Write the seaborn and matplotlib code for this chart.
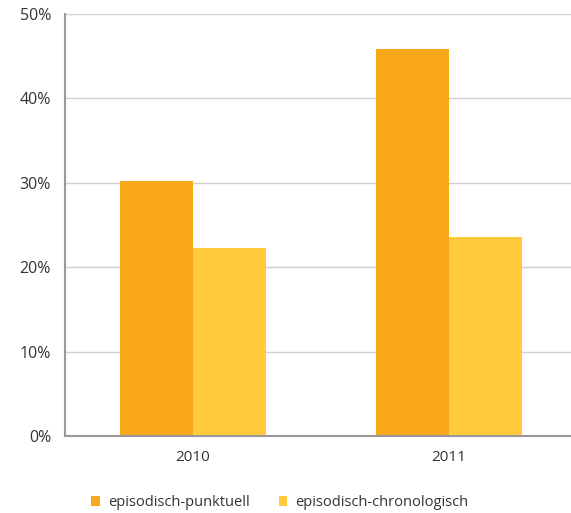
import pandas as pd
import matplotlib
matplotlib.use("Agg")
import matplotlib.pyplot as plt
import seaborn as sns
from matplotlib.ticker import FuncFormatter, FixedLocator

# data
years = ["2010", "2011"]
punktuell = [30.2, 45.9]
chronologisch = [22.3, 23.6]
series_names = ["episodisch-punktuell", "episodisch-chronologisch"]
colors = ["#F9A81C", "#FFCB3D"]

df = pd.DataFrame({
    "year": years * 2,
    "value": punktuell + chronologisch,
    "series": [series_names[0]] * 2 + [series_names[1]] * 2,
})

sns.set_style("white")
plt.rcParams["font.family"] = ["Open Sans", "DejaVu Sans"]

fig = plt.figure(figsize=(5.71, 5.13), dpi=100)
ax = fig.add_axes([0.1138, 0.150, 0.8967, 0.8227])

sns.barplot(data=df, x="year", y="value", hue="series", palette=colors,
            width=0.57, saturation=1, linewidth=0, ax=ax, zorder=2)

ax.set_ylim(0, 50)
ax.set_xlim(-0.5, 1.5)
ax.set_yticks([0, 10, 20, 30, 40, 50])
ax.yaxis.set_major_formatter(FuncFormatter(lambda v, p: f"{int(v)}%"))
ax.yaxis.grid(True, color="#d0d0d0", linewidth=1, zorder=0)
ax.set_axisbelow(True)

ax.xaxis.set_minor_locator(FixedLocator([-0.5, 0.5, 1.5]))
ax.tick_params(axis="x", which="major", length=0, pad=10, labelsize=11, colors="#333333")
ax.tick_params(axis="x", which="minor", length=5, width=1.2, color="#999999", direction="inout")
ax.tick_params(axis="y", length=6, width=1.2, color="#999999", direction="out", pad=4,
               labelsize=11.5, labelcolor="#333333")

for side in ["top", "right"]:
    ax.spines[side].set_visible(False)
for side in ["left", "bottom"]:
    ax.spines[side].set_color("#999999")
    ax.spines[side].set_linewidth(1.5)

ax.set_xlabel("")
ax.set_ylabel("")

handles, labels = ax.get_legend_handles_labels()
ax.legend_.remove()
fig.legend(handles, labels, loc="center", bbox_to_anchor=(0.49, 0.02), ncol=2,
           frameon=False, fontsize=10.5, handlelength=0.6, handleheight=0.6,
           columnspacing=2.0, handletextpad=0.55, labelcolor="#333333")

fig.savefig("out.png", dpi=100)
